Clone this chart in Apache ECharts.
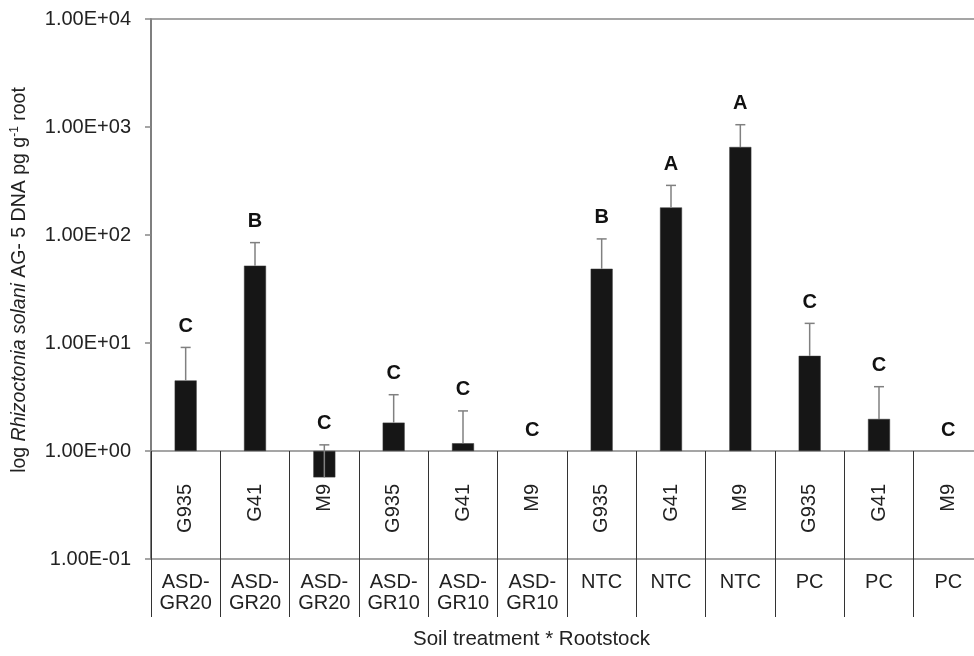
<!DOCTYPE html>
<html>
<head>
<meta charset="utf-8">
<script src="https://cdn.jsdelivr.net/npm/echarts@6/dist/echarts.min.js"></script>
<style>
html,body{margin:0;padding:0;background:#fff;}
#chart{width:974px;height:656px;}
</style>
</head>
<body>
<div id="chart"></div>
<script>
var rootstocks = ['G935','G41','M9','G935','G41','M9','G935','G41','M9','G935','G41','M9'];
var treatments = ['ASD-\nGR20','ASD-\nGR20','ASD-\nGR20','ASD-\nGR10','ASD-\nGR10','ASD-\nGR10','NTC','NTC','NTC','PC','PC','PC'];
var means = [4.5, 52, 0.57, 1.83, 1.18, null, 48.7, 180, 653, 7.6, 1.98, null];
var upper = [9.1, 85, 1.14, 3.32, 2.35, null, 92, 288, 1050, 15.2, 3.94, null];
var letters = ['C','B','C','C','C','C','B','A','A','C','C','C'];
var yTickLabels = ['1.00E-01','1.00E+00','1.00E+01','1.00E+02','1.00E+03','1.00E+04'];

var FONT = '"Liberation Sans", Arial, Helvetica, sans-serif';
var chart = echarts.init(document.getElementById('chart'), null, {renderer:'canvas'});

var errData = means.map(function(m, i){ return [i, m, upper[i]]; }).filter(function(d){ return d[1] != null; });
var letterData = letters.map(function(l, i){ return [i, upper[i] != null ? upper[i] : 1]; });

var option = {
  animation: false,
  backgroundColor: '#fff',
  title: {
    text: 'Soil treatment * Rootstock',
    left: 413, top: 629, padding: 0,
    textStyle: {fontFamily: FONT, fontSize: 20.5, fontWeight: 'normal', color: '#222'}
  },
  grid: {left: 151, top: 19, width: 832, height: 540, containLabel: false, outerBoundsMode: 'none'},
  xAxis: [
    {
      type: 'category', data: rootstocks, position: 'bottom', offset: -108,
      axisLine: {show: true, onZero: false, lineStyle: {color: '#888', width: 1.5}},
      axisTick: {show: true, alignWithLabel: false, length: 108, lineStyle: {color: '#333', width: 1}},
      axisLabel: {interval: 0, rotate: 90, margin: 33, fontFamily: FONT, fontSize: 20, color: '#222'},
      splitLine: {show: false}
    },
    {
      type: 'category', data: treatments, position: 'bottom', offset: 0,
      axisLine: {show: true, onZero: false, lineStyle: {color: '#888', width: 1.5}},
      axisTick: {show: true, alignWithLabel: false, length: 58, lineStyle: {color: '#333', width: 1}},
      axisLabel: {interval: 0, margin: 13, fontFamily: FONT, fontSize: 20, lineHeight: 21, color: '#222'},
      splitLine: {show: false}
    },
    {
      type: 'category', data: rootstocks, position: 'top',
      axisLine: {show: true, onZero: false, lineStyle: {color: '#888', width: 1.5}},
      axisTick: {show: false}, axisLabel: {show: false}, splitLine: {show: false}
    }
  ],
  yAxis: {
    type: 'log', logBase: 10, min: 0.1, max: 10000,
    axisLine: {show: true, lineStyle: {color: '#555', width: 1.5}},
    axisTick: {show: true, length: 6, lineStyle: {color: '#888', width: 1.5}},
    splitLine: {show: false},
    axisLabel: {
      margin: 20, fontFamily: FONT, fontSize: 20, color: '#222',
      formatter: function(v){
        var k = Math.round(Math.log(v)/Math.LN10) + 1;
        return yTickLabels[k] || '';
      }
    },
    name: '{n|log }{i|Rhizoctonia solani}{n| AG- 5 DNA pg g}{s|-1}{n| root}',
    nameLocation: 'middle', nameRotate: 90, nameGap: 120,
    nameTextStyle: {
      fontFamily: FONT, fontSize: 19.5, color: '#222', padding: [0, 0, 0, 18],
      rich: {
        n: {fontFamily: FONT, fontSize: 19.5, color: '#222', lineHeight: 22},
        i: {fontFamily: FONT, fontSize: 19.5, fontStyle: 'italic', color: '#222', lineHeight: 22},
        s: {fontFamily: FONT, fontSize: 12, color: '#222', verticalAlign: 'top', lineHeight: 22}
      }
    }
  },
  series: [
    {
      type: 'bar', xAxisIndex: 0, data: means, barWidth: 22,
      itemStyle: {color: '#161616', borderColor: '#3a3a3a', borderWidth: 0.5},
      z: 2
    },
    {
      type: 'custom', xAxisIndex: 0, data: errData, z: 3,
      renderItem: function(params, api){
        var x = api.value(0);
        var p0 = api.coord([x, api.value(1)]);
        var p1 = api.coord([x, api.value(2)]);
        var hw = 5;
        var style = {stroke: '#808080', lineWidth: 1.5};
        return {
          type: 'group',
          children: [
            {type: 'line', shape: {x1: p0[0], y1: p0[1], x2: p1[0], y2: p1[1]}, style: style},
            {type: 'line', shape: {x1: p1[0]-hw, y1: p1[1], x2: p1[0]+hw, y2: p1[1]}, style: style}
          ]
        };
      },
      encode: {x: 0, y: [1, 2]}
    },
    {
      type: 'scatter', xAxisIndex: 0, data: letterData, symbolSize: 0, z: 4,
      itemStyle: {opacity: 1},
      label: {
        show: true, position: 'top', distance: 11, opacity: 1,
        fontFamily: FONT, fontSize: 20, fontWeight: 'bold', color: '#111',
        formatter: function(p){ return letters[p.dataIndex]; }
      }
    }
  ]
};
chart.setOption(option);
</script>
</body>
</html>
